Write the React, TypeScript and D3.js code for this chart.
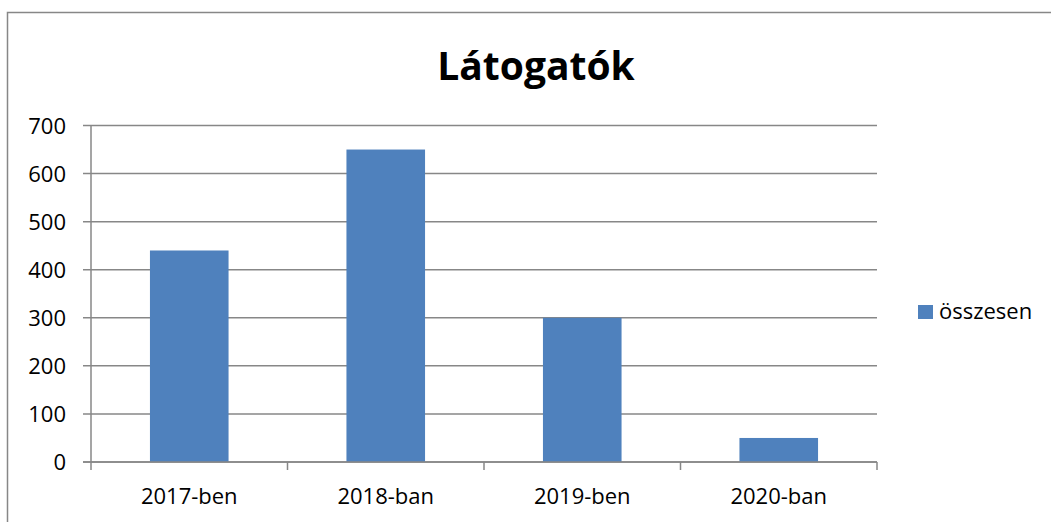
import * as d3 from 'd3';

const categories = ['2017-ben', '2018-ban', '2019-ben', '2020-ban'];
const values = [440, 650, 300, 50];
const yTicks = [0, 100, 200, 300, 400, 500, 600, 700];
const seriesName = 'összesen';
const title = 'Látogatók';

const width = 1051;
const height = 522;
const font = "'Open Sans', 'Noto Sans', sans-serif";
const barColor = '#4f81bd';
const lineColor = '#878787';

export default function App() {
  const x = d3.scaleBand<string>()
    .domain(categories)
    .range([91, 877])
    .padding(0);

  const y = d3.scaleLinear()
    .domain([0, 700])
    .range([462, 125.5]);

  const bw = x.bandwidth();

  return (
    <svg
      width={width}
      height={height}
      style={{ position: 'absolute', left: 0, top: 0, background: '#fff' }}
      fontFamily={font}
    >
      {/* chart frame, runs past the right and bottom edges */}
      <rect x={7.5} y={12.5} width={width + 20} height={height + 20} fill="#fff" stroke={lineColor} strokeWidth={1.5} />

      <text x={536} y={80} textAnchor="middle" fontSize={39} fontWeight="bold" fill="#000">
        {title}
      </text>

      {/* grid lines + y ticks */}
      {yTicks.map(t => (
        <g key={t}>
          <line x1={83} x2={877} y1={y(t)} y2={y(t)} stroke={lineColor} strokeWidth={1.5} />
          <text x={66} y={y(t) + 8} textAnchor="end" fontSize={22} fill="#000">{t}</text>
        </g>
      ))}

      {/* bars */}
      {categories.map((c, i) => (
        <rect
          key={c}
          x={(x(c) || 0) + bw * 0.3}
          y={y(values[i])}
          width={bw * 0.4}
          height={y(0) - y(values[i])}
          fill={barColor}
        />
      ))}

      {/* y axis */}
      <line x1={91} x2={91} y1={y(700)} y2={y(0)} stroke={lineColor} strokeWidth={1.5} />

      {/* x axis */}
      <line x1={83} x2={877} y1={y(0)} y2={y(0)} stroke={lineColor} strokeWidth={1.5} />
      {categories.concat(['end']).map((c, i) => {
        const tx = i < categories.length ? (x(c) || 0) : 877;
        return <line key={'t' + i} x1={tx} x2={tx} y1={y(0)} y2={y(0) + 8} stroke={lineColor} strokeWidth={1.5} />;
      })}
      {categories.map(c => (
        <text key={'l' + c} x={(x(c) || 0) + bw / 2} y={504} textAnchor="middle" fontSize={22} fill="#000">
          {c}
        </text>
      ))}

      {/* legend */}
      <rect x={918} y={305} width={15} height={14} fill={barColor} />
      <text x={939} y={319} fontSize={22} fill="#000">{seriesName}</text>
    </svg>
  );
}
